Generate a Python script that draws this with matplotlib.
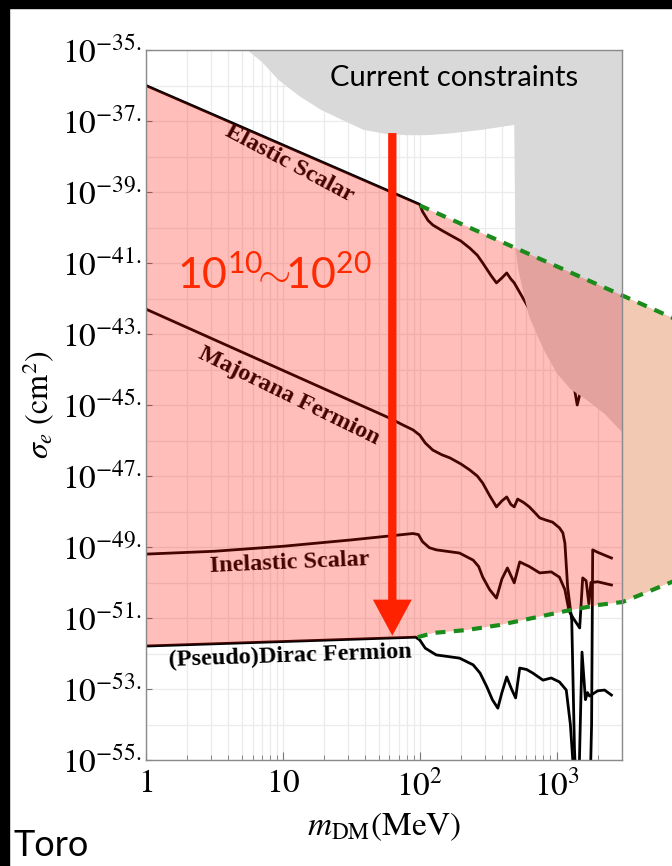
import numpy as np
import matplotlib.pyplot as plt
from matplotlib.patches import Rectangle, FancyArrowPatch
from matplotlib.ticker import FixedLocator, NullFormatter

plt.rcParams['mathtext.fontset'] = 'stix'
plt.rcParams['font.family'] = 'STIXGeneral'
plt.rcParams['mathtext.rm'] = 'Lato'

# --- data: log10(m_DM / MeV) and log10(sigma_e / cm^2) ---
elastic_lm = [0.0, 2.0, 2.02, 2.06, 2.095, 2.16, 2.22, 2.30, 2.365, 2.42, 2.46, 2.52, 2.56, 2.60, 2.635, 2.665, 2.69, 2.80, 2.95, 3.10, 3.13, 3.15, 3.175, 3.22, 3.30, 3.40]
elastic_ls = [-36.0, -39.35, -39.55, -39.80, -39.93, -40.08, -40.21, -40.38, -40.58, -40.78, -41.0, -41.35, -41.56, -41.42, -41.28, -41.45, -41.56, -42.3, -43.2, -44.2, -44.55, -45.0, -44.6, -44.0, -44.1, -44.4]

majorana_lm = [0.0, 1.78, 1.87, 1.95, 2.0, 2.04, 2.095, 2.16, 2.22, 2.30, 2.365, 2.42, 2.46, 2.51, 2.56, 2.60, 2.635, 2.665, 2.69, 2.715, 2.76, 2.80, 2.84, 2.876, 2.92, 2.97, 3.02, 3.045, 3.06, 3.08, 3.11, 3.13, 3.15, 3.24, 3.255, 3.263, 3.30, 3.40]
majorana_ls = [-42.3, -45.37, -45.55, -45.70, -45.85, -46.07, -46.27, -46.40, -46.49, -46.66, -46.83, -47.0, -47.20, -47.55, -47.87, -47.70, -47.59, -47.80, -47.87, -47.65, -47.75, -47.87, -48.03, -48.18, -48.24, -48.30, -48.46, -48.6, -48.89, -50.13, -51.06, -54.7, -56.5, -56.5, -54.0, -49.08, -49.15, -49.31]

inelastic_lm = [0.0, 0.5, 1.0, 1.5, 1.95, 1.99, 2.02, 2.07, 2.12, 2.29, 2.39, 2.43, 2.46, 2.51, 2.56, 2.60, 2.64, 2.69, 2.73, 2.80, 2.876, 2.96, 3.02, 3.06, 3.09, 3.12, 3.168, 3.19, 3.215, 3.235, 3.25, 3.30, 3.40]
inelastic_ls = [-49.2, -49.12, -48.98, -48.80, -48.62, -48.65, -48.85, -49.02, -49.08, -49.17, -49.37, -49.55, -49.85, -50.2, -50.44, -49.9, -49.59, -50.01, -49.42, -49.55, -49.73, -49.70, -49.85, -50.2, -50.8, -51.0, -51.28, -49.87, -49.95, -50.6, -50.0, -49.98, -50.07]

dirac_lm = [0.0, 1.97, 2.0, 2.04, 2.12, 2.29, 2.39, 2.44, 2.49, 2.53, 2.57, 2.60, 2.635, 2.67, 2.70, 2.73, 2.78, 2.825, 2.90, 2.96, 3.02, 3.07, 3.10, 3.135, 3.16, 3.185, 3.21, 3.225, 3.24, 3.30, 3.35, 3.40]
dirac_ls = [-51.79, -51.54, -51.62, -51.85, -52.04, -52.13, -52.32, -52.55, -52.94, -53.3, -53.54, -53.1, -52.66, -53.0, -53.25, -52.41, -52.45, -52.55, -52.75, -52.69, -52.80, -53.03, -54.0, -56.0, -56.0, -51.96, -53.3, -53.1, -53.2, -53.05, -53.03, -53.17]

# "current constraints" region
gray_lm = [0.74, 0.85, 0.97, 1.12, 1.28, 1.45, 1.59, 1.75, 1.905, 2.05, 2.22, 2.45, 2.69, 2.70, 2.72, 2.76, 2.80, 2.90, 3.0, 3.1, 3.22, 3.35, 3.477, 3.477]
gray_ls = [-35.0, -35.35, -35.85, -36.3, -36.69, -37.0, -37.25, -37.36, -37.40, -37.40, -37.35, -37.25, -37.11, -40.6, -41.2, -41.9, -42.52, -43.4, -44.1, -44.55, -44.86, -45.25, -45.76, -35.0]

# projected reach (green dashed)
reach_up_lm = [2.0, 3.85]
reach_up_ls = [-39.38, -42.55]
reach_lo_lm = [1.985, 2.1, 2.34, 2.58, 2.825, 3.07, 3.31, 3.48, 3.61, 3.85]
reach_lo_ls = [-51.54, -51.42, -51.34, -51.20, -51.00, -50.80, -50.63, -50.55, -50.35, -49.97]

arrow_m = 63
arrow_from, arrow_to = -37.34, -51.5

ytick_exp = list(range(-35, -56, -2))
xtick_vals = [1, 10, 100, 1000]
xtick_text = ['$1$', '$10$', '$10^2$', '$10^3$']

curve_names = ['Elastic Scalar', 'Majorana Fermion', 'Inelastic Scalar', '(Pseudo)Dirac Fermion']
label_lm = [1.05, 1.044, 1.05, 1.05]
label_ls = [-38.2, -44.75, -49.45, -52.07]
label_rot = [-28, -26, 2.5, 2]


def p(lm, ls):
    return 10 ** np.asarray(lm, float), 10 ** np.asarray(ls, float)


fig = plt.figure(figsize=(6.72, 8.66), dpi=100)
ax = fig.add_axes([146 / 672, 106 / 866, 476 / 672, 710 / 866])
ax.set_xscale('log')
ax.set_yscale('log')
ax.set_xlim(1, 3000)
ax.set_ylim(1e-55, 1e-35)

# curves
for lm, ls in [(elastic_lm, elastic_ls), (majorana_lm, majorana_ls),
               (inelastic_lm, inelastic_ls), (dirac_lm, dirac_ls)]:
    x, y = p(lm, ls)
    ax.plot(x, y, color='black', lw=2.0, zorder=2, solid_joinstyle='round')

for name, lm, ls, rot in zip(curve_names, label_lm, label_ls, label_rot):
    ax.text(10 ** lm, 10 ** ls, name, rotation=rot, ha='center', va='center',
            family='Liberation Serif', fontweight='bold', fontsize=17.5, zorder=2.5)

# constraints
gx, gy = p(gray_lm, gray_ls)
ax.fill(gx, gy, color='#d9d9d9', lw=0, zorder=3)
ax.text(0.647, 0.961, 'Current constraints', transform=ax.transAxes, ha='center', va='center',
        family='Lato', fontsize=21, zorder=7)

# pink band between the top and bottom bounds
el = np.array(elastic_lm)
up_lm = np.concatenate([el[el <= 2.0], reach_up_lm])
up_ls = np.concatenate([np.array(elastic_ls)[el <= 2.0], reach_up_ls])
dl = np.array(dirac_lm)
lo_lm = np.concatenate([dl[dl <= 1.97], reach_lo_lm])
lo_ls = np.concatenate([np.array(dirac_ls)[dl <= 1.97], reach_lo_ls])
bx, by = p(np.concatenate([up_lm, lo_lm[::-1]]), np.concatenate([up_ls, lo_ls[::-1]]))
ax.fill(bx, by, color=(1.0, 0.06, 0.0), alpha=0.27, lw=0, zorder=4)

# part of the band beyond the frame
edge = 3.477
ox_up = np.array([edge, reach_up_lm[-1]])
ox_lo = np.concatenate([[edge], [x for x in reach_lo_lm if x > edge]])
o_up = np.interp(ox_up, up_lm, up_ls)
o_lo = np.interp(ox_lo, lo_lm, lo_ls)
ox, oy = p(np.concatenate([ox_up, ox_lo[::-1]]), np.concatenate([o_up, o_lo[::-1]]))
ax.fill(ox, oy, color='#f2c9b3', lw=0, zorder=1, clip_on=False)

for lm, ls in [(reach_up_lm, reach_up_ls), (reach_lo_lm, reach_lo_ls)]:
    x, y = p(lm, ls)
    ax.plot(x, y, color='#1b8c1b', lw=3, dashes=(2.4, 2.0), zorder=5, clip_on=False)

arr = FancyArrowPatch((arrow_m, 10 ** arrow_from), (arrow_m, 10 ** arrow_to),
                      arrowstyle='simple,head_length=2.6,head_width=2.8,tail_width=0.6',
                      mutation_scale=10, color='#ff2200', lw=0, shrinkA=0, shrinkB=0, zorder=6)
ax.add_patch(arr)
ax.text(0.269, 0.68, r'$\mathrm{10^{10}}\!\!\sim\!\!\mathrm{10^{20}}$', transform=ax.transAxes,
        ha='center', va='center', fontsize=31, color='#ff2a00', math_fontfamily='custom', zorder=7)

# axes styling
ax.yaxis.set_major_locator(FixedLocator([10.0 ** e for e in ytick_exp]))
ax.yaxis.set_minor_locator(FixedLocator([10.0 ** e for e in range(-36, -55, -2)]))
ax.set_yticklabels([r'$10^{%d.}$' % e for e in ytick_exp])
ax.yaxis.set_minor_formatter(NullFormatter())
ax.xaxis.set_major_locator(FixedLocator(xtick_vals))
ax.set_xticklabels(xtick_text)
minors = [k * 10 ** d for d in range(0, 4) for k in range(2, 10) if k * 10 ** d <= 3000]
ax.xaxis.set_minor_locator(FixedLocator(minors))
ax.xaxis.set_minor_formatter(NullFormatter())

ax.tick_params(which='both', direction='in', top=False, right=False, color='#777777', labelsize=24)
ax.tick_params(axis='x', which='major', length=6, pad=7)
ax.tick_params(axis='x', which='minor', length=3.5)
ax.tick_params(axis='y', which='major', length=4, pad=3)
ax.tick_params(axis='y', which='minor', length=0)
ax.grid(which='both', color='#ebebeb', lw=0.9)
ax.set_axisbelow(True)
for s in ax.spines.values():
    s.set_color('#8a8a8a')
    s.set_linewidth(1.0)
    s.set_zorder(8)

ax.set_xlabel(r'$m_{\mathrm{DM}}(\mathrm{MeV})$', fontsize=24, labelpad=6)
ax.set_ylabel(r'$\sigma_e\ (\mathrm{cm}^2)$', fontsize=23, labelpad=4)

fig.text(13 / 672, 1 - 845 / 866, 'Toro', family='Lato', fontsize=26, va='center', ha='left')
fig.patches.append(Rectangle((0, 0), 9 / 672, 1, transform=fig.transFigure, color='black', zorder=10))
fig.patches.append(Rectangle((0, 1 - 8 / 866), 1, 8 / 866, transform=fig.transFigure, color='black', zorder=10))

fig.savefig('out.png', dpi=100)
